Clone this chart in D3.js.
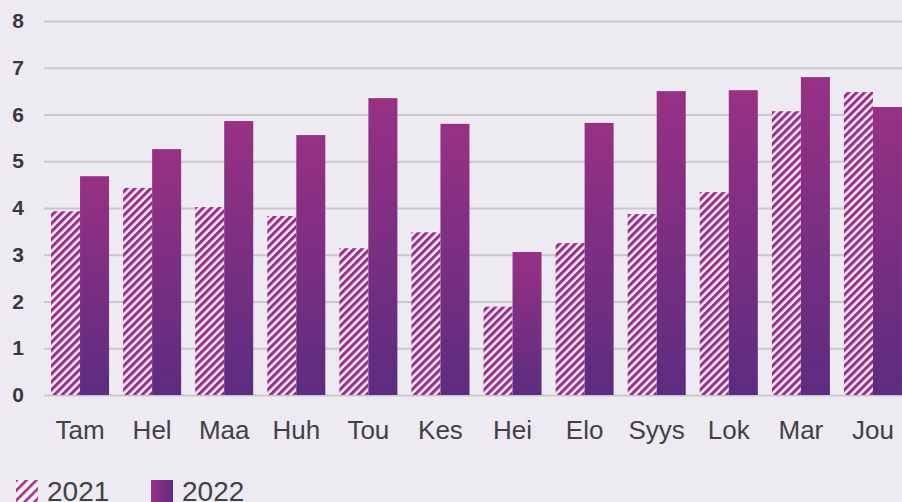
<!DOCTYPE html>
<meta charset="utf-8">
<style>
body { margin: 0; background: #edeaf1; }
svg { display: block; background: #edeaf1; }
.axis text { font-family: "Liberation Sans", Arial, sans-serif; }
.y.axis text { font-size: 21px; font-weight: bold; fill: #38373c; }
.y.axis line { stroke: #cbc7cf; stroke-width: 2; }
.x-label { font-family: "Liberation Sans", Arial, sans-serif; font-size: 26px; fill: #424146; }
.legend text { font-family: "Liberation Sans", Arial, sans-serif; font-size: 28px; fill: #424146; }
</style>
<body>
<script src="https://d3js.org/d3.v7.min.js"></script>
<script>

var months = ["Tam", "Hel", "Maa", "Huh", "Tou", "Kes", "Hei", "Elo", "Syys", "Lok", "Mar", "Jou"];
var years = ["2021", "2022"];
var values2021 = [3.93, 4.43, 4.02, 3.83, 3.14, 3.48, 1.89, 3.25, 3.87, 4.34, 6.07, 6.48];
var values2022 = [4.68, 5.26, 5.86, 5.56, 6.35, 5.80, 3.06, 5.82, 6.50, 6.52, 6.80, 6.16];
var yTicks = [0, 1, 2, 3, 4, 5, 6, 7, 8];

var width = 902, height = 502;
var margin = {left: 44, right: 909, top: 21, bottom: 395};

var svg = d3.select("body").append("svg")
    .attr("width", width)
    .attr("height", height);

var defs = svg.append("defs");

// hatch for 2021
var hatch = defs.append("pattern")
    .attr("id", "hatch")
    .attr("patternUnits", "userSpaceOnUse")
    .attr("width", 5.6)
    .attr("height", 5.6)
    .attr("patternTransform", "rotate(45)");
hatch.append("rect").attr("width", 5.6).attr("height", 5.6).attr("fill", "#f6f1f6");
hatch.append("rect").attr("width", 3.1).attr("height", 5.6).attr("fill", "#9c2e8b");

var hatchLegend = defs.append("pattern")
    .attr("id", "hatchLegend")
    .attr("patternUnits", "userSpaceOnUse")
    .attr("width", 7)
    .attr("height", 7)
    .attr("patternTransform", "rotate(45)");
hatchLegend.append("rect").attr("width", 7).attr("height", 7).attr("fill", "#f6f1f6");
hatchLegend.append("rect").attr("width", 2.6).attr("height", 7).attr("fill", "#a0308d");

// gradient for 2022
var grad = defs.append("linearGradient")
    .attr("id", "grad")
    .attr("x1", 0).attr("y1", 0).attr("x2", 0).attr("y2", 1);
grad.append("stop").attr("offset", "0%").attr("stop-color", "#983184");
grad.append("stop").attr("offset", "100%").attr("stop-color", "#5c2c80");

var gradLegend = defs.append("linearGradient")
    .attr("id", "gradLegend")
    .attr("x1", 0).attr("y1", 0).attr("x2", 1).attr("y2", 0);
gradLegend.append("stop").attr("offset", "0%").attr("stop-color", "#9a3186");
gradLegend.append("stop").attr("offset", "100%").attr("stop-color", "#5c2c80");

var y = d3.scaleLinear()
    .domain([0, 8])
    .range([margin.bottom, margin.top]);

var x = d3.scaleBand()
    .domain(months)
    .range([margin.left, margin.right])
    .paddingInner(0.195)
    .paddingOuter(0.0975);

var x1 = d3.scaleBand()
    .domain(years)
    .range([0, x.bandwidth()]);

var yAxis = d3.axisLeft(y)
    .tickValues(yTicks)
    .tickSize(-(width - margin.left))
    .tickPadding(20)
    .tickFormat(d3.format("d"));

svg.append("g")
    .attr("class", "y axis")
    .attr("transform", "translate(" + margin.left + ",0)")
    .call(yAxis)
    .call(function(g) { g.select(".domain").remove(); });

var data = months.map(function(m, i) {
  return { month: m, vals: [
    { year: "2021", value: values2021[i] },
    { year: "2022", value: values2022[i] }
  ]};
});

var groups = svg.selectAll(".group")
    .data(data)
  .enter().append("g")
    .attr("class", "group")
    .attr("transform", function(d) { return "translate(" + x(d.month) + ",0)"; });

groups.selectAll("rect")
    .data(function(d) { return d.vals; })
  .enter().append("rect")
    .attr("x", function(d) { return x1(d.year); })
    .attr("y", function(d) { return y(d.value); })
    .attr("width", x1.bandwidth())
    .attr("height", function(d) { return y(0) - y(d.value); })
    .attr("fill", function(d) { return d.year === "2021" ? "url(#hatch)" : "url(#grad)"; });

svg.selectAll(".x-label")
    .data(months)
  .enter().append("text")
    .attr("class", "x-label")
    .attr("x", function(d) { return x(d) + x.bandwidth() / 2; })
    .attr("y", 439)
    .attr("text-anchor", "middle")
    .text(function(d) { return d; });

// legend
var legend = svg.append("g").attr("class", "legend");
var legendX = [16, 151];
years.forEach(function(yr, i) {
  legend.append("rect")
    .attr("x", legendX[i])
    .attr("y", 480)
    .attr("width", 22)
    .attr("height", 24)
    .attr("fill", i === 0 ? "url(#hatchLegend)" : "url(#gradLegend)");
  legend.append("text")
    .attr("x", legendX[i] + 31)
    .attr("y", 501)
    .text(yr);
});

</script>
</body>
